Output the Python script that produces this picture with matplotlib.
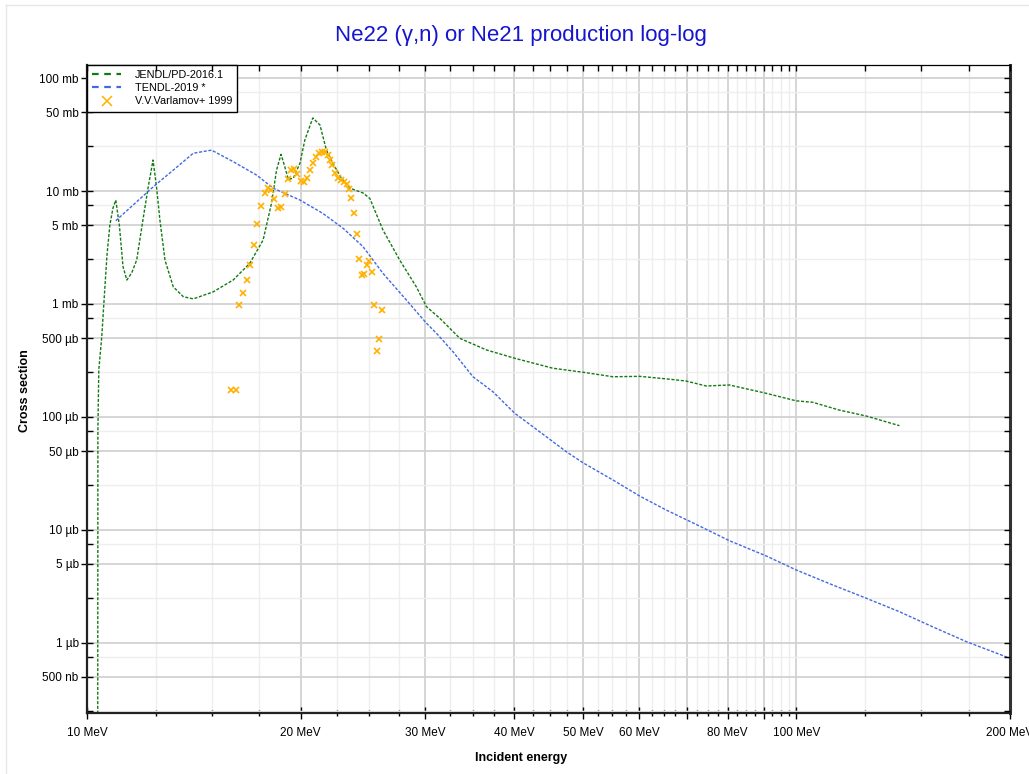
import numpy as np
import matplotlib
matplotlib.use('Agg')
import matplotlib.pyplot as plt
from matplotlib.lines import Line2D
from matplotlib.ticker import FixedLocator, FuncFormatter, NullFormatter

plt.rcParams['font.family'] = ['Liberation Sans', 'DejaVu Sans']

# JENDL/PD-2016.1 (energy in MeV, cross section in mb)
jendl_e = [10.35, 10.36, 10.39, 10.49, 10.57, 10.67, 10.77, 10.88, 10.98, 11.11, 11.24, 11.38,
           11.56, 11.75, 11.99, 12.2, 12.39, 12.53, 12.67, 12.88, 13.23, 13.67, 14.12, 15.06,
           16.07, 16.96, 17.71, 18.2, 18.5, 18.77, 18.94, 19.22, 19.53, 19.96, 20.28, 20.81,
           21.3, 21.75, 22.21, 22.84, 23.47, 24.5, 25.04, 26.13, 27.59, 29.12, 30.1, 31.43,
           33.53, 36.56, 40.07, 45.37, 50.0, 55.12, 60.1, 66.24, 69.92, 74.63, 80.44, 90.66,
           99.9, 105.4, 115.0, 125.4, 139.7]
jendl_xs = [1e-6, 0.077, 0.26, 0.51, 1.085, 2.71, 5.0, 7.07, 8.3, 4.9, 2.14, 1.63,
            1.88, 2.45, 5.54, 10.9, 18.8, 10.9, 5.54, 2.45, 1.42, 1.16, 1.11, 1.28,
            1.63, 2.29, 3.68, 7.78, 15.3, 21.1, 17.6, 12.7, 12.96, 17.6, 28.3, 44.3,
            38.4, 23.0, 17.6, 12.96, 10.6, 9.6, 8.6, 4.52, 2.45, 1.42, 0.946, 0.747,
            0.497, 0.392, 0.331, 0.270, 0.249, 0.227, 0.229, 0.216, 0.208, 0.188, 0.192, 0.162,
            0.139, 0.135, 0.115, 0.102, 0.0838]

# TENDL-2019
tendl_e = [10.98, 12.4, 13.23, 14.12, 14.98, 16.07, 17.35, 18.29, 19.96, 21.5, 22.97, 24.5,
           26.13, 28.19, 30.1, 31.09, 32.8, 35.0, 37.35, 40.07, 43.45, 47.38, 50.0, 55.12,
           60.1, 65.55, 73.0, 80.44, 90.66, 99.9, 112.5, 125.4, 139.7, 155.6, 173.4, 199.5]
tendl_xs = [5.46, 10.9, 15.3, 21.6, 23.0, 18.2, 13.8, 10.6, 8.32, 6.34, 4.67, 3.21,
            1.87, 1.085, 0.675, 0.55, 0.378, 0.227, 0.167, 0.108, 0.0741, 0.0493, 0.0394, 0.0277,
            0.02, 0.015, 0.01084, 0.00804, 0.00589, 0.00443, 0.00326, 0.00249, 0.00189, 0.00139,
            0.00103, 0.000736]

# V.V.Varlamov+ 1999
exp_e = [15.95, 16.21, 16.38, 16.6, 16.8, 17.0, 17.19, 17.38, 17.6, 17.8, 18.01, 18.19,
         18.36, 18.6, 18.8, 19.01, 19.21, 19.38, 19.57, 19.78, 20.02, 20.21, 20.39, 20.59,
         20.81, 21.0, 21.22, 21.43, 21.62, 21.83, 21.99, 22.18, 22.4, 22.59, 22.79, 23.03,
         23.22, 23.41, 23.59, 23.8, 24.01, 24.19, 24.43, 24.61, 24.8, 24.98, 25.2, 25.38,
         26.01, 25.78, 25.59]
exp_xs = [0.173, 0.173, 0.98, 1.259, 1.62, 2.2, 3.31, 5.14, 7.41, 9.55, 10.57, 10.15,
          8.5, 7.03, 7.17, 9.46, 12.77, 15.34, 15.56, 14.22, 12.25, 11.94, 13.12, 15.25,
          17.7, 19.87, 21.56, 22.0, 22.0, 20.83, 18.8, 16.88, 14.52, 13.11, 12.5, 12.08,
          11.53, 10.42, 8.67, 6.39, 4.14, 2.5, 1.81, 1.85, 2.23, 2.4, 1.91, 0.98,
          0.88, 0.487, 0.386]

x_major = [10, 20, 30, 40, 50, 60, 70, 80, 90, 100, 200]
x_labels = {10: '10 MeV', 20: '20 MeV', 30: '30 MeV', 40: '40 MeV', 50: '50 MeV',
            60: '60 MeV', 80: '80 MeV', 100: '100 MeV', 200: '200 MeV'}
y_labels = {100: '100 mb', 50: '50 mb', 10: '10 mb', 5: '5 mb', 1: '1 mb',
            0.5: '500 µb', 0.1: '100 µb', 0.05: '50 µb', 0.01: '10 µb',
            0.005: '5 µb', 0.001: '1 µb', 0.0005: '500 nb'}

green = '#137a13'
blue = '#4169e1'
orange = '#ffb000'

x_minor = [v for v in np.arange(12.5, 100, 2.5) if v % 10 != 0] + [125, 150, 175]
y_major = [m * 10.0 ** d for d in range(-4, 3) for m in (1, 5)]
y_minor = [m * 10.0 ** d for d in range(-4, 3) for m in (2.5, 7.5)]
xlim = (10, 200)
ylim = (2.4e-4, 131.7)

fig = plt.figure(figsize=(10.29, 7.74), dpi=100)
rect = [87 / 1029, 1 - 713 / 774, 923 / 1029, 648.5 / 774]
ax = fig.add_axes(rect)
ax.set_xscale('log')
ax.set_yscale('log')

ax.plot(jendl_e, jendl_xs, color=green, lw=1.0, ls=(0, (2.2, 1.2)))
ax.plot(tendl_e, tendl_xs, color=blue, lw=1.0, ls=(0, (2.2, 1.2)))
ax.plot(exp_e, exp_xs, ls='none', marker='x', color=orange, ms=4.5, mew=1.2)

ax.set_xlim(*xlim)
ax.set_ylim(*ylim)

ax.xaxis.set_major_locator(FixedLocator(x_major))
ax.xaxis.set_minor_locator(FixedLocator(x_minor))
ax.xaxis.set_major_formatter(FuncFormatter(lambda v, p: x_labels.get(int(round(v)), '')))
ax.xaxis.set_minor_formatter(NullFormatter())
ax.yaxis.set_major_locator(FixedLocator(y_major))
ax.yaxis.set_minor_locator(FixedLocator(y_minor))


def ylab(v, p):
    for k, s in y_labels.items():
        if abs(v / k - 1) < 1e-3:
            return s
    return ''


ax.yaxis.set_major_formatter(FuncFormatter(ylab))
ax.yaxis.set_minor_formatter(NullFormatter())

ax.grid(True, which='major', color='#d2d2d2', lw=1.3)
ax.grid(True, which='minor', color='#eeeeee', lw=1.0)
ax.set_axisbelow(True)

ax.tick_params(which='both', top=False, right=False, color='black', width=1)
ax.tick_params(which='major', direction='inout', length=8, labelsize=8.5)
ax.tick_params(axis='y', which='minor', direction='in', length=4)
ax.tick_params(axis='x', which='minor', direction='inout', length=4)
ax.tick_params(axis='x', which='major', pad=6)
ax.tick_params(axis='y', which='major', pad=2)

for side in ['left', 'bottom']:
    ax.spines[side].set_linewidth(1.6)
    ax.spines[side].set_color('#222222')
ax.spines['top'].set_linewidth(0.9)
ax.spines['top'].set_color('black')
ax.spines['right'].set_linewidth(2.2)
ax.spines['right'].set_color('#333333')

# inward ticks along the top and right sides
edge = fig.add_axes(rect, frameon=False)
edge.set_xscale('log')
edge.set_yscale('log')
edge.set_xlim(*xlim)
edge.set_ylim(*ylim)
edge.xaxis.set_major_locator(FixedLocator(x_major))
edge.xaxis.set_minor_locator(FixedLocator(x_minor))
edge.yaxis.set_major_locator(FixedLocator(y_major))
edge.yaxis.set_minor_locator(FixedLocator(y_minor))
edge.tick_params(which='both', direction='in', length=4, width=1, color='black',
                 top=True, right=True, bottom=False, left=False,
                 labeltop=False, labelright=False, labelbottom=False, labelleft=False)
edge.patch.set_visible(False)

handles = [
    Line2D([], [], color=green, lw=1.6, ls=(0, (3, 2.5))),
    Line2D([], [], color=blue, lw=1.6, ls=(0, (3, 2.5))),
    Line2D([], [], color=orange, ls='none', marker='x', ms=7, mew=1.1),
]
leg = ax.legend(handles, ['JENDL/PD-2016.1', 'TENDL-2019 *', 'V.V.Varlamov+ 1999'],
                loc='upper left', borderaxespad=0, fontsize=7.8, fancybox=False,
                framealpha=1, edgecolor='black', handlelength=2.6, handletextpad=1.3,
                borderpad=0.5, labelspacing=0.3)
leg.get_frame().set_linewidth(1.0)

fig.text(0.506, 1 - 35 / 774, 'Ne22 (γ,n) or Ne21 production log-log',
         ha='center', va='center', fontsize=16, color='#1515d0')
fig.text(0.506, 1 - 758 / 774, 'Incident energy', ha='center', va='center',
         fontsize=9, fontweight='bold')
fig.text(25 / 1029, 1 - 391 / 774, 'Cross section', ha='center', va='center',
         rotation=90, fontsize=9, fontweight='bold')

# light outer frame
fig.add_artist(Line2D([6 / 1029, 6 / 1029], [0, 1 - 5 / 774], color='#e6e6e6', lw=1))
fig.add_artist(Line2D([6 / 1029, 1], [1 - 5 / 774, 1 - 5 / 774], color='#e6e6e6', lw=1))

plt.savefig('out.png', dpi=100)
